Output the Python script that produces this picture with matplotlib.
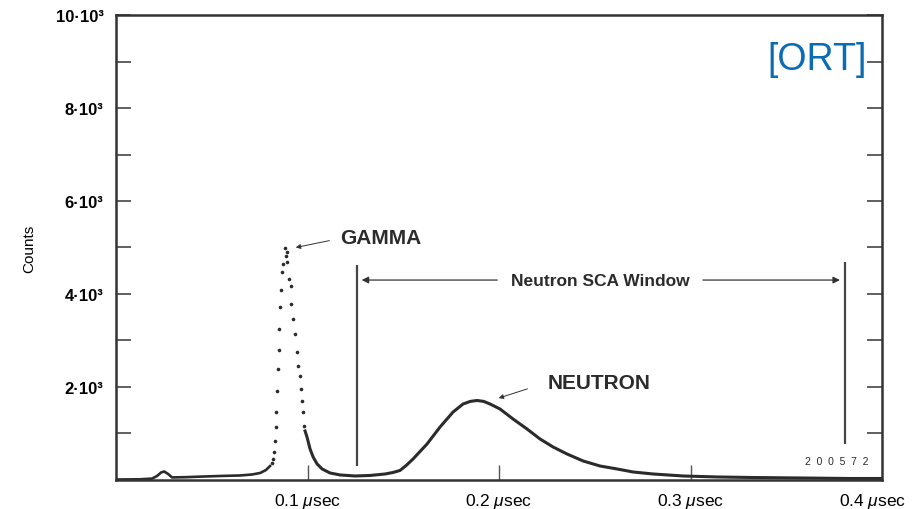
import numpy as np
import matplotlib
matplotlib.use("Agg")
import matplotlib.pyplot as plt
import matplotlib.transforms as mtransforms

plt.rcParams['font.family'] = ['Liberation Sans', 'DejaVu Sans']
plt.rcParams['mathtext.fontset'] = 'custom'
plt.rcParams['mathtext.rm'] = 'Liberation Sans'
plt.rcParams['mathtext.it'] = 'Liberation Sans:italic'
plt.rcParams['mathtext.bf'] = 'Liberation Sans:bold'

### Espectro continuo (tiempo en usec, cuentas)
base_t = [0.0000, 0.0125, 0.0188, 0.0214, 0.0235, 0.0251, 0.0272, 0.0292, 0.0360,
          0.0439, 0.0543, 0.0648, 0.0710, 0.0752, 0.0783, 0.0804]
base_c = [10, 15, 30, 86, 161, 183, 129, 55, 60, 72, 86, 97, 118, 150, 215, 300]

### Pico gamma: puntos sueltos
gamma_t = [0.0815, 0.0820, 0.0825, 0.0830, 0.0833, 0.0836, 0.0841, 0.0846, 0.0851,
           0.0853, 0.0856, 0.0859, 0.0867, 0.0872, 0.0882, 0.0888, 0.0893, 0.0895,
           0.0903, 0.0914, 0.0916, 0.0924, 0.0935, 0.0945, 0.0950, 0.0961, 0.0966,
           0.0971, 0.0977, 0.0982]
gamma_c = [366, 452, 602, 839, 1140, 1462, 1914, 2387, 2795, 3247, 3720, 4085, 4472,
           4644, 4988, 4816, 4902, 4687, 4322, 4171, 3784, 3462, 3139, 2752, 2451,
           2236, 1957, 1699, 1462, 1161]

### Cola del gamma y pico de neutrones
neut_t = [0.0987, 0.0997, 0.1013, 0.1029, 0.1050, 0.1076, 0.1117, 0.1170, 0.1248,
          0.1326, 0.1405, 0.1446, 0.1483, 0.1515, 0.1551, 0.1624, 0.1692, 0.1760,
          0.1812, 0.1850, 0.1885, 0.1920, 0.1953, 0.2005, 0.2073, 0.2146, 0.2214,
          0.2282, 0.2355, 0.2439, 0.2527, 0.2616, 0.2700, 0.2804, 0.2961, 0.3138,
          0.3311, 0.3572, 0.3833, 0.4000]
neut_c = [1054, 925, 667, 495, 344, 237, 151, 108, 86, 97, 129, 161, 205, 312, 452,
          774, 1140, 1462, 1634, 1690, 1710, 1690, 1634, 1527, 1312, 1097, 882, 710,
          559, 409, 301, 237, 172, 129, 86, 65, 54, 43, 32, 32]

### Ventana SCA
sca_lo, sca_hi = 0.1258, 0.3807
y_ticks = [2000, 4000, 6000, 8000, 10000]
y_labels = ['2·10³', '4·10³', '6·10³', '8·10³', '10·10³']
x_ticks = [0.1, 0.2, 0.3, 0.4]
x_labels = [r'0.1 $\mu$sec', r'0.2 $\mu$sec', r'0.3 $\mu$sec', r'0.4 $\mu$sec']

ink = '#2b2b2b'
fig = plt.figure(figsize=(9.14, 5.10), dpi=100)
ax = fig.add_axes([0.127, 0.0569, 0.838, 0.9117])

ax.plot(base_t, base_c, '-', color=ink, lw=1.9)
ax.plot(neut_t, neut_c, '-', color=ink, lw=2.2)
ax.plot(gamma_t, gamma_c, 'o', color=ink, ms=2.6, mew=0)

ax.set_xlim(0, 0.4)
ax.set_ylim(0, 10000)

for s in ax.spines.values():
    s.set_linewidth(1.8)
    s.set_color('#333333')

ax.set_yticks(y_ticks)
ax.set_yticklabels(y_labels, fontweight='bold', fontsize=12)
ax.set_yticks(np.arange(1000, 10000, 2000), minor=True)
ax.tick_params(axis='y', which='both', direction='in', length=11, width=1.2,
               right=True, color='#444444', pad=9)
ax.set_xticks(x_ticks)
ax.set_xticklabels(x_labels, fontsize=12.5)
ax.tick_params(axis='x', direction='in', length=11, width=1.0, color='#555555', pad=8)
ax.xaxis.get_major_ticks()[-1].tick1line.set_visible(False)
last = ax.get_xticklabels()[-1]
last.set_transform(last.get_transform() + mtransforms.ScaledTranslation(-9 / 100, 0, fig.dpi_scale_trans))

ax.set_ylabel('Counts', fontsize=11, labelpad=14)

### Lineas de la ventana y flechas
ax.vlines([sca_lo], 300, 4620, color='#444444', lw=1.6)
ax.vlines([sca_hi], 770, 4690, color='#444444', lw=1.6)
arr = dict(arrowstyle='-|>', lw=0.9, color='#333333', mutation_scale=10)
ax.annotate('', xy=(sca_lo + 0.0010, 4300), xytext=(0.2005, 4300), arrowprops=arr)
ax.annotate('', xy=(sca_hi - 0.0012, 4300), xytext=(0.3050, 4300), arrowprops=arr)
ax.text(0.2527, 4300, 'Neutron SCA Window', ha='center', va='center',
        fontsize=12.5, fontweight='bold', color=ink)

small = dict(arrowstyle='-|>', lw=0.7, color='#333333', mutation_scale=7)
ax.annotate('', xy=(0.0924, 4988), xytext=(0.1128, 5160), arrowprops=small)
ax.text(0.1170, 5225, 'GAMMA', ha='left', va='center', fontsize=15,
        fontweight='bold', color=ink)
ax.annotate('', xy=(0.1984, 1742), xytext=(0.2162, 1978), arrowprops=small)
ax.text(0.2256, 2107, 'NEUTRON', ha='left', va='center', fontsize=15,
        fontweight='bold', color=ink)

ax.text(0.3927, 400, '2  0  0  5  7  2', ha='right', va='center', fontsize=7.5, color=ink)
fig.text(0.948, 0.882, '[ORT]', ha='right', va='center', fontsize=27, color='#0a6cb5')

fig.savefig('out.png', dpi=100)
